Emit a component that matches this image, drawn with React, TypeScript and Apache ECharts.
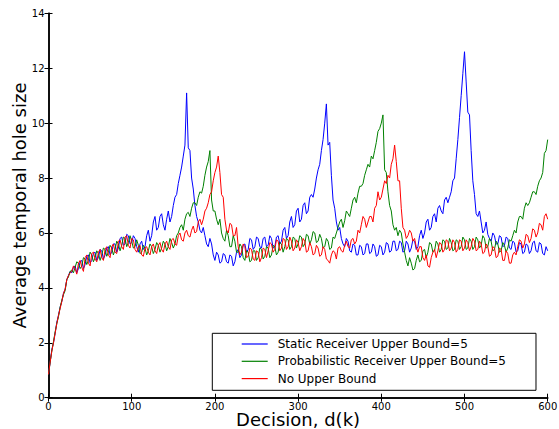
import React, { useEffect, useRef } from "react";
import * as echarts from "echarts";

// Decision index step between sampled points
const STEP = 2;

const seriesNames = [
  "Static Receiver Upper Bound=5",
  "Probabilistic Receiver Upper Bound=5",
  "No Upper Bound",
];

const seriesColors = ["#0000ff", "#008000", "#ff0000"];

const xTicks = [0, 100, 200, 300, 400, 500, 600];
const yTicks = [0, 2, 4, 6, 8, 10, 12, 14];

// values at d(k) = 0, 2, 4, ..., 600 (10 per row = 20 decisions)
const staticReceiver = [
  0.85, 1.3, 1.75, 2.0, 2.35, 2.75, 3.0, 3.3, 3.5, 3.8,
  3.95, 4.3, 4.45, 4.6, 4.55, 4.75, 4.8, 4.55, 4.7, 4.95,
  5.0, 4.7, 4.85, 5.15, 5.2, 4.9, 5.0, 5.25, 5.3, 5.0,
  5.1, 5.4, 5.35, 5.05, 5.2, 5.45, 5.5, 5.2, 5.3, 5.6,
  5.6, 5.3, 5.45, 5.8, 5.85, 5.55, 5.6, 5.95, 5.9, 5.6,
  5.65, 5.9, 5.8, 5.5, 5.3, 5.6, 5.7, 5.4, 5.5, 5.9,
  6.1, 5.7, 5.9, 6.4, 6.6, 6.1, 6.2, 6.6, 6.7, 6.3,
  6.1, 6.5, 6.8, 6.4, 6.6, 7.0, 7.3, 7.4, 7.8, 8.1,
  8.4, 8.8, 9.2, 11.1, 9.1, 9.0, 8.0, 7.6, 7.0, 6.6,
  6.4, 6.1, 6.0, 6.2, 5.9, 5.6, 5.5, 5.8, 5.6, 5.2,
  5.0, 5.3, 5.2, 4.9, 4.95, 5.25, 5.2, 4.95, 4.9, 5.2,
  5.15, 4.8, 4.95, 5.3, 5.4, 5.1, 5.2, 5.55, 5.6, 5.3,
  5.4, 5.8, 5.75, 5.4, 5.5, 5.85, 5.8, 5.5, 5.45, 5.8,
  5.85, 5.5, 5.55, 5.9, 5.8, 5.45, 5.5, 5.85, 5.9, 5.6,
  5.7, 6.1, 6.2, 5.8, 5.9, 6.4, 6.6, 6.2, 6.3, 6.8,
  6.9, 6.4, 6.5, 7.0, 7.1, 6.7, 6.8, 7.3, 7.4, 7.3,
  7.6, 8.0, 8.3, 8.5, 9.0, 9.4, 10.0, 10.7, 9.2, 9.3,
  8.1, 7.2, 6.9, 6.4, 6.1, 6.2, 5.8, 5.6, 5.5, 5.8,
  5.7, 5.35, 5.3, 5.6, 5.55, 5.2, 5.2, 5.55, 5.5, 5.2,
  5.25, 5.6, 5.6, 5.25, 5.3, 5.6, 5.5, 5.15, 5.2, 5.55,
  5.5, 5.2, 5.3, 5.65, 5.6, 5.3, 5.35, 5.7, 5.7, 5.35,
  5.4, 5.7, 5.65, 5.3, 5.35, 5.7, 5.6, 5.3, 5.45, 5.75,
  5.7, 5.4, 5.5, 5.9, 6.1, 5.8, 6.0, 6.4, 6.5, 6.1,
  6.2, 6.6, 6.7, 6.4, 6.9, 7.0, 6.8, 6.7, 7.2, 7.3,
  7.1, 7.3, 7.5, 7.9, 8.0, 8.7, 9.4, 10.2, 11.0, 11.8,
  12.6, 11.5, 10.4, 10.3, 9.0, 7.9, 7.4, 6.7, 6.6, 6.8,
  6.4, 6.0, 6.1, 6.4, 5.95, 5.8, 5.7, 6.0, 5.9, 5.6,
  5.6, 5.9, 5.85, 5.5, 5.55, 5.85, 5.8, 5.45, 5.4, 5.7,
  5.65, 5.3, 5.35, 5.65, 5.6, 5.25, 5.3, 5.6, 5.55, 5.25,
  5.35, 5.65, 5.7, 5.35, 5.3, 5.65, 5.6, 5.25, 5.2, 5.5,
  5.35,
];

const probabilisticReceiver = [
  0.85, 1.3, 1.7, 2.05, 2.4, 2.7, 2.95, 3.3, 3.55, 3.75,
  3.9, 4.3, 4.4, 4.6, 4.65, 4.55, 4.75, 4.95, 4.9, 4.7,
  4.8, 5.1, 5.05, 4.85, 5.0, 5.3, 5.2, 4.95, 5.1, 5.35,
  5.25, 5.0, 5.2, 5.45, 5.4, 5.15, 5.3, 5.55, 5.45, 5.2,
  5.4, 5.7, 5.6, 5.35, 5.55, 5.85, 5.8, 5.5, 5.65, 5.9,
  5.7, 5.45, 5.5, 5.75, 5.55, 5.25, 5.3, 5.55, 5.45, 5.2,
  5.35, 5.6, 5.5, 5.25, 5.4, 5.65, 5.55, 5.3, 5.45, 5.7,
  5.6, 5.35, 5.5, 5.8, 5.65, 5.45, 5.6, 5.9, 6.0, 6.2,
  6.3, 6.1, 6.5, 6.7, 6.75, 6.6, 6.9, 7.1, 7.1, 7.0,
  7.3, 7.5, 7.45, 7.7, 8.1, 8.4, 8.6, 9.0, 7.2, 6.8,
  6.8, 6.5, 6.3, 6.5, 6.0, 5.8, 5.7, 6.1, 5.9, 5.5,
  5.5, 5.9, 5.7, 5.3, 5.3, 5.6, 5.5, 5.1, 5.0, 5.35,
  5.3, 4.95, 5.0, 5.35, 5.35, 5.0, 5.1, 5.45, 5.4, 5.05,
  5.15, 5.5, 5.45, 5.1, 5.2, 5.55, 5.5, 5.2, 5.3, 5.65,
  5.6, 5.3, 5.5, 5.8, 5.75, 5.4, 5.5, 5.85, 5.8, 5.45,
  5.6, 5.9, 5.85, 5.5, 5.6, 5.95, 5.9, 5.6, 5.75, 6.05,
  6.0, 5.65, 5.7, 5.95, 5.8, 5.45, 5.5, 5.8, 5.7, 5.4,
  5.45, 5.85, 5.8, 6.0, 6.2, 6.4, 6.5, 6.2, 6.45, 6.8,
  6.7, 6.6, 6.9, 7.2, 7.3, 7.1, 7.45, 7.7, 7.7, 7.8,
  8.1, 8.3, 8.5, 8.4, 8.8, 8.7, 9.0, 9.3, 9.7, 9.8,
  10.0, 10.3, 8.3, 8.2, 7.5, 7.0, 6.8, 6.3, 6.1, 6.2,
  5.9, 6.1, 6.0, 5.6, 5.3, 5.0, 4.8, 5.1, 4.9, 4.65,
  4.7, 5.0, 5.2, 4.95, 5.0, 5.35, 5.4, 5.1, 5.3, 5.65,
  5.6, 5.3, 5.35, 5.7, 5.6, 5.3, 5.4, 5.75, 5.7, 5.4,
  5.45, 5.8, 5.65, 5.35, 5.4, 5.75, 5.7, 5.4, 5.5, 5.85,
  5.75, 5.4, 5.45, 5.8, 5.7, 5.4, 5.5, 5.85, 5.75, 5.45,
  5.55, 5.9, 5.8, 5.45, 5.5, 5.8, 5.7, 5.35, 5.4, 5.7,
  5.6, 5.3, 5.35, 5.65, 5.55, 5.3, 5.45, 5.75, 5.7, 5.9,
  6.1, 6.0, 6.4, 6.6, 6.6, 6.5, 6.9, 7.1, 7.0, 7.1,
  7.3, 7.5, 7.5, 7.4, 7.7, 7.9, 8.0, 8.2, 8.9, 9.0,
  9.4,
];

const noUpperBound = [
  0.85, 1.3, 1.7, 2.0, 2.35, 2.7, 3.0, 3.25, 3.5, 3.8,
  3.95, 4.3, 4.45, 4.55, 4.6, 4.8, 4.7, 4.5, 4.9, 5.0,
  4.75, 4.6, 5.1, 5.2, 4.9, 4.8, 5.25, 5.3, 5.05, 4.95,
  5.3, 5.4, 5.1, 5.0, 5.4, 5.5, 5.2, 5.1, 5.5, 5.6,
  5.3, 5.25, 5.7, 5.75, 5.5, 5.4, 5.85, 5.9, 5.55, 5.45,
  5.8, 5.75, 5.4, 5.3, 5.5, 5.55, 5.2, 5.15, 5.45, 5.5,
  5.3, 5.2, 5.5, 5.6, 5.35, 5.25, 5.55, 5.65, 5.4, 5.3,
  5.6, 5.7, 5.5, 5.4, 5.75, 5.8, 5.6, 5.55, 5.9, 6.0,
  5.75, 5.7, 6.0, 6.1, 5.9, 5.85, 6.1, 6.25, 6.0, 6.05,
  6.4, 6.5, 6.3, 6.5, 6.8, 6.9, 7.1, 7.4, 7.5, 7.9,
  8.2, 8.4, 8.8, 8.2, 7.4, 7.3, 6.5, 6.1, 6.0, 6.35,
  6.3, 5.9, 5.9, 6.2, 5.5, 5.2, 5.3, 5.6, 5.5, 5.1,
  5.15, 5.45, 5.4, 5.05, 5.0, 5.35, 5.3, 4.95, 5.1, 5.45,
  5.4, 5.1, 5.35, 5.65, 5.6, 5.3, 5.4, 5.75, 5.7, 5.35,
  5.45, 5.8, 5.75, 5.4, 5.5, 5.85, 5.7, 5.35, 5.45, 5.75,
  5.65, 5.35, 5.5, 5.8, 5.7, 5.3, 5.35, 5.65, 5.5, 5.2,
  5.25, 5.55, 5.45, 5.15, 5.2, 5.5, 5.4, 5.05, 5.0, 4.9,
  5.2, 5.35, 5.3, 5.05, 5.45, 5.5, 5.35, 5.3, 5.55, 5.7,
  5.5, 5.45, 5.75, 5.8, 5.6, 5.7, 6.1, 6.0, 6.3, 6.6,
  6.5, 6.2, 6.4, 6.6, 6.6, 6.4, 6.9, 7.0, 7.5, 7.2,
  7.3, 7.6, 7.9, 7.8, 8.1, 8.0, 8.5, 8.7, 9.2, 8.6,
  7.9, 7.9, 6.9, 6.2, 6.1, 5.8, 5.9, 6.1, 6.0, 5.7,
  5.8, 5.5, 5.3, 5.5, 5.5, 5.1, 5.0, 5.2, 4.8, 4.75,
  5.1, 5.3, 5.4, 5.1, 5.35, 5.65, 5.6, 5.3, 5.4, 5.75,
  5.7, 5.35, 5.45, 5.75, 5.65, 5.3, 5.4, 5.75, 5.7, 5.35,
  5.45, 5.75, 5.65, 5.35, 5.5, 5.8, 5.7, 5.35, 5.4, 5.7,
  5.6, 5.25, 5.3, 5.6, 5.5, 5.15, 5.2, 5.5, 5.45, 5.1,
  5.15, 5.45, 5.4, 5.0, 5.0, 5.35, 5.25, 4.9, 4.9, 5.2,
  5.3, 5.2, 5.5, 5.75, 5.7, 5.45, 5.6, 5.95, 5.9, 5.65,
  5.8, 6.15, 6.1, 5.85, 6.0, 6.35, 6.3, 6.1, 6.6, 6.7,
  6.5,
];

const allSeries = [staticReceiver, probabilisticReceiver, noUpperBound];

const FONT = "DejaVu Sans";

export default function App() {
  const ref = useRef<HTMLDivElement>(null);

  useEffect(() => {
    if (!ref.current) return;
    const chart = echarts.init(ref.current, null, { renderer: "svg" });

    const toPairs = (arr: number[]) => arr.map((v, i) => [i * STEP, v]);

    const axisLine = { show: true, lineStyle: { color: "#000", width: 1.5 } };
    const axisTick = {
      show: true,
      inside: true,
      length: 4,
      lineStyle: { color: "#000", width: 1 },
    };
    const axisLabel = {
      color: "#000",
      fontSize: 10,
      lineHeight: 11,
      fontFamily: FONT,
    };

    chart.setOption({
      animation: false,
      backgroundColor: "#fff",
      grid: {
        left: 48.5,
        right: 11.3,
        top: 13.3,
        bottom: 31.3,
        containLabel: false,
        outerBoundsMode: "none",
      },
      xAxis: [
        {
          type: "value",
          position: "bottom",
          min: xTicks[0],
          max: xTicks[xTicks.length - 1],
          interval: 100,
          axisLine,
          axisTick,
          axisLabel: { ...axisLabel, margin: 3 },
          splitLine: { show: false },
          name: "Decision, d(k)",
          nameLocation: "middle",
          nameGap: 13,
          nameMoveOverlap: false,
          nameTextStyle: { fontSize: 18, color: "#000", fontFamily: FONT },
        },
        {
          type: "value",
          position: "top",
          min: xTicks[0],
          max: xTicks[xTicks.length - 1],
          interval: 100,
          axisLine,
          axisTick,
          axisLabel: { show: false },
          splitLine: { show: false },
        },
      ],
      yAxis: [
        {
          type: "value",
          position: "left",
          min: yTicks[0],
          max: yTicks[yTicks.length - 1],
          interval: 2,
          axisLine,
          axisTick,
          axisLabel: { ...axisLabel, margin: 4 },
          splitLine: { show: false },
          name: "Average temporal hole size",
          nameLocation: "middle",
          nameGap: 20,
          nameMoveOverlap: false,
          nameTextStyle: { fontSize: 18, color: "#000", fontFamily: FONT },
        },
        {
          type: "value",
          position: "right",
          min: yTicks[0],
          max: yTicks[yTicks.length - 1],
          interval: 2,
          axisLine,
          axisTick,
          axisLabel: { show: false },
          splitLine: { show: false },
        },
      ],
      legend: {
        orient: "vertical",
        left: 212.3,
        top: 333.3,
        padding: [3.7, 30, 4.7, 29.4],
        icon: "rect",
        itemWidth: 26,
        itemHeight: 1.2,
        itemGap: 3.3,
        borderColor: "#000",
        borderWidth: 1,
        borderRadius: 0,
        backgroundColor: "#fff",
        textStyle: {
          fontSize: 12,
          lineHeight: 14,
          fontFamily: FONT,
          color: "#000",
          padding: [0, 0, 0, 5],
        },
        data: seriesNames,
      },
      series: allSeries.map((arr, i) => ({
        name: seriesNames[i],
        type: "line",
        xAxisIndex: 0,
        yAxisIndex: 0,
        showSymbol: false,
        symbol: "none",
        color: seriesColors[i],
        lineStyle: { width: 1, color: seriesColors[i] },
        data: toPairs(arr),
        z: 2 + i,
      })),
    });

    return () => chart.dispose();
  }, []);

  return (
    <div
      ref={ref}
      style={{ position: "fixed", left: 0, top: 0, width: 559, height: 429 }}
    />
  );
}
